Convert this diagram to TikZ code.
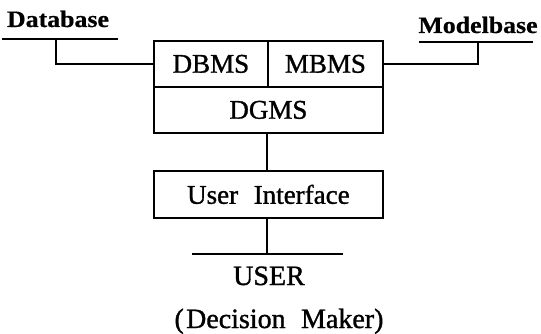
\documentclass[tikz,border=0pt]{standalone}
\usepackage{fontspec}
\setmainfont{Liberation Serif}[FakeBold=1.2]
\newfontfamily\labelfont{Liberation Serif}[FakeStretch=1.1,FakeBold=0.6]
\begin{document}
\begin{tikzpicture}[x=1pt,y=-1pt,
  cell/.style={draw,line width=1.8pt,rectangle,inner sep=0pt,anchor=north west,
    font=\fontsize{27}{32}\selectfont},
  wire/.style={line width=1.5pt},
  baselabel/.style={inner sep=0pt,anchor=base,font=\labelfont\bfseries\fontsize{23.5}{28}\selectfont},
  usertext/.style={inner sep=0pt,anchor=base,font=\fontsize{28}{33}\selectfont}]
\useasboundingbox (0,0) rectangle (541,334);

% management system block
\node[cell,minimum width=114pt,minimum height=46pt] (dbms) at (153,40) {DBMS};
\node[cell,minimum width=115pt,minimum height=46pt] (mbms) at (267,40) {MBMS};
\node[cell,minimum width=229pt,minimum height=46pt] (dgms) at (153,86) {DGMS};

% interface block
\node[cell,minimum width=229pt,minimum height=47pt] (ui) at (153,170) {User\hspace{0.58em}Interface};

% external sources
\node[baselabel] (database) at (58,27) {Database};
\coordinate (dbl) at (2,39);
\coordinate (dbr) at (118,39);
\coordinate (dbstem) at (56,39);
\draw[wire] (dbl) -- (dbr);
\draw[wire] (dbstem) |- (dbms.west);

\node[baselabel] (modelbase) at (478,33) {Modelbase};
\coordinate (mbl) at (419,42);
\coordinate (mbr) at (533,42);
\coordinate (mbstem) at (478,42);
\draw[wire] (mbl) -- (mbr);
\draw[wire] (mbstem) |- (mbms.east);

% user side
\coordinate (userl) at (192,254);
\coordinate (userr) at (343,254);
\coordinate (userstem) at (267,254);
\draw[wire] (dgms.south -| userstem) -- (ui.north -| userstem);
\draw[wire] (ui.south -| userstem) -- (userstem);
\draw[wire] (userl) -- (userr);
\node[usertext] (user) at (269,285) {USER};
\node[usertext] (maker) at (279,328) {(\hspace{0.08em}Decision\hspace{0.55em}Maker)};
\end{tikzpicture}
\end{document}
